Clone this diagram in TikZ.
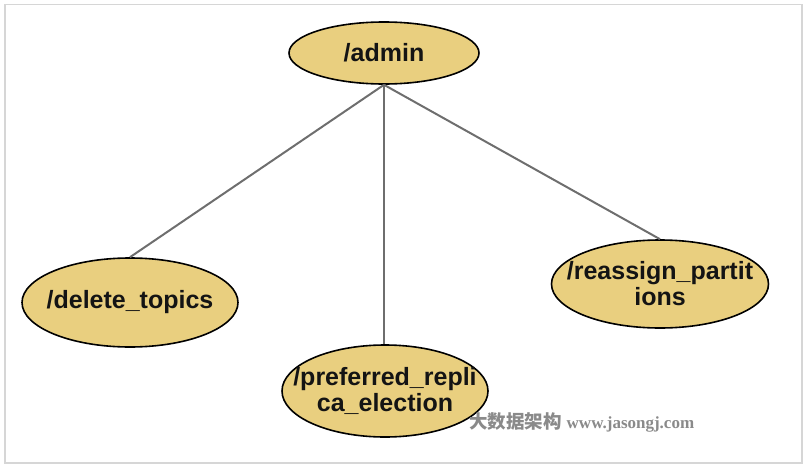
\documentclass[tikz,border=0pt]{standalone}
\usepackage{fontspec}
\setmainfont{Liberation Sans}
\newfontfamily\cjkfont{Noto Sans CJK SC}
\newfontfamily\urlfont{Liberation Serif}
\usetikzlibrary{shapes.geometric}
\definecolor{nodefill}{HTML}{E9CF7F}
\definecolor{edgegray}{HTML}{6E6E6E}
\definecolor{framegray}{HTML}{D6D6D6}
\definecolor{wmgray}{HTML}{8A8A8A}
\tikzset{
  znode/.style={ellipse, draw=black, line width=1.6pt, fill=nodefill, inner xsep=-40pt, inner ysep=-10pt,
    font=\fontsize{25}{26}\selectfont\bfseries, text=black!92, align=center},
  zedge/.style={draw=edgegray, line width=2pt},
}
\begin{document}
\begin{tikzpicture}[x=1pt,y=-1pt]
\useasboundingbox (0,0) rectangle (807,466);
\draw[framegray, line width=1.5pt] (5,4.5) rectangle (802,463);
\node[znode, minimum width=190pt, minimum height=62pt] (admin) at (384,53) {/admin};
\node[znode, minimum width=216pt, minimum height=89pt] (del) at (130,302.5) {/delete\_topics};
\node[znode, minimum width=206pt, minimum height=92pt] (pref) at (385,391) {/preferred\_repli\\ca\_election};
\node[znode, minimum width=217pt, minimum height=88pt] (reas) at (660,284) {/reassign\_partit\\ions};
\draw[zedge] (admin.south) -- (del.north);
\draw[zedge] (admin.south) -- (admin.south |- pref.north);
\draw[zedge] (admin.south) -- (reas.north);
\node[anchor=west, inner sep=0pt, text=wmgray] (wm) at (469,422)
  {{\cjkfont\fontsize{18.5}{20}\selectfont\bfseries 大数据架构}\hspace{5pt}{\urlfont\fontsize{17}{20}\selectfont\bfseries www.jasongj.com}};
\end{tikzpicture}
\end{document}
